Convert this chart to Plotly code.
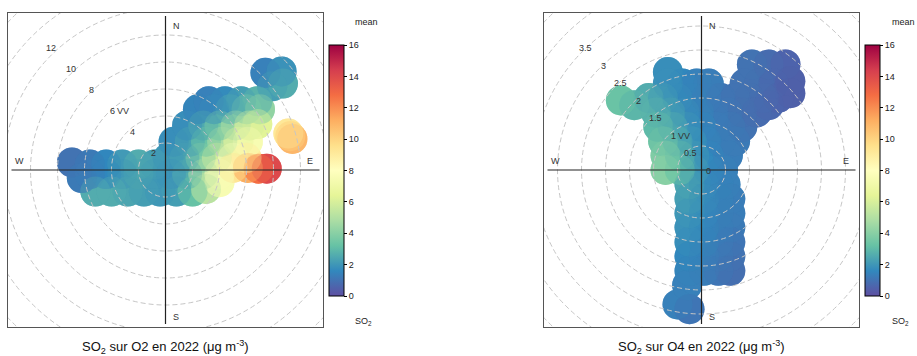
import plotly.graph_objects as go

W, H = 917, 356
FONT = "Liberation Sans, Arial, sans-serif"

# ---------------- DATA ----------------
# Site O2 : wind components (ws units, east / north) and mean SO2
o2_u = [-5.2, -4.0, -2.8, -1.6, -0.4, 0.8, 2.0, 3.0, 4.0,
        -6.93, -6.2,
        -5.6, -4.4, -3.2, -2.0, -0.8, 0.4, 1.6, 2.8, 4.0,
        5.0, 6.1, 6.9, 7.5,
        -5.6, -4.4, -3.2, -2.0, -0.8,
        0.2, 1.4, 2.6, 3.8, 5.0, 6.0,
        0.6, 1.8, 3.0, 4.2, 5.4, 6.1,
        1.6, 2.8, 4.0, 5.2, 6.2, 6.8,
        2.4, 3.6, 4.8, 6.0, 7.0,
        3.2, 4.4, 5.6, 6.8,
        7.9, 8.7, 7.4, 8.6,
        9.1, 9.25, 9.4]
o2_v = [-1.6, -1.6, -1.6, -1.6, -1.6, -1.6, -1.6, -1.4, -0.9,
        0.56, -0.6,
        -0.3, -0.3, -0.3, -0.3, -0.3, -0.3, -0.3, -0.3, -0.3,
        0.15, 0.15, 0.1, 0.1,
        0.4, 0.4, 0.4, 0.4, 0.4,
        0.9, 0.9, 0.9, 0.9, 0.9, 0.9,
        2.1, 2.1, 2.1, 2.1, 2.1, 2.1,
        3.3, 3.3, 3.3, 3.3, 3.3, 3.4,
        4.5, 4.5, 4.5, 4.5, 4.5,
        5.1, 5.1, 5.1, 5.1,
        6.2, 6.4, 7.2, 7.3,
        2.7, 2.5, 2.3]
o2_so2 = [2.6, 2.6, 2.4, 2.2, 2.0, 2.2, 3.2, 5.2, 7.5,
          1.0, 1.2,
          1.3, 1.6, 2.0, 2.4, 2.0, 1.9, 2.6, 4.8, 7.6,
          9.3, 11.2, 12.8, 14.0,
          1.2, 1.6, 2.1, 2.6, 2.2,
          2.0, 2.3, 3.8, 5.8, 7.8, 9.0,
          1.8, 2.3, 3.3, 4.8, 6.5, 7.5,
          1.8, 2.5, 3.5, 4.8, 6.0, 6.3,
          1.5, 1.8, 2.6, 3.6, 4.2,
          1.4, 1.7, 2.2, 2.8,
          2.2, 2.6, 1.4, 1.9,
          9.2, 10.0, 10.9]

# Site O4
o4_u = [-0.75, -0.45, -0.15, 0.15, 0.45,
        -0.75, -0.45, -0.15, 0.15, 0.55,
        -0.8, -0.5, -0.2, 0.1, 0.4, 0.7,
        -0.9, -0.6, -0.3, 0.0, 0.3, 0.6, 0.85,
        -0.95, -0.65, -0.35, -0.05, 0.25, 0.55, 0.85, 1.15, 1.4,
        -1.68, -1.4, -1.1, -0.8, -0.5, -0.2, 0.1, 0.4, 0.7, 1.0, 1.3, 1.6, 1.85,
        -0.7, -0.4, -0.1, 0.15, 0.9, 1.2, 1.5, 1.85,
        -0.7,
        1.05, 1.4, 1.75,
        -0.25, 0.05, 0.35, 0.5,
        -0.25, 0.05, 0.35, 0.6,
        -0.25, 0.05, 0.35, 0.6,
        -0.25, 0.05, 0.35, 0.6,
        -0.25, 0.05, 0.35, 0.6,
        -0.25, 0.05, 0.35, 0.6,
        -0.25, 0.05, 0.35, 0.6,
        -0.3, -0.5, -0.25]
o4_v = [0.0, 0.0, 0.0, 0.0, 0.0,
        0.3, 0.3, 0.3, 0.3, 0.3,
        0.6, 0.6, 0.6, 0.6, 0.6, 0.6,
        0.9, 0.9, 0.9, 0.9, 0.9, 0.9, 0.9,
        1.2, 1.2, 1.2, 1.2, 1.2, 1.2, 1.2, 1.2, 1.35,
        1.45, 1.35, 1.5, 1.5, 1.5, 1.5, 1.5, 1.5, 1.5, 1.5, 1.5, 1.5, 1.6,
        1.8, 1.8, 1.8, 1.8, 1.8, 1.8, 1.8, 1.85,
        2.04,
        2.2, 2.2, 2.2,
        -0.3, -0.3, -0.3, -0.3,
        -0.6, -0.6, -0.6, -0.6,
        -0.9, -0.9, -0.9, -0.9,
        -1.2, -1.2, -1.2, -1.2,
        -1.5, -1.5, -1.5, -1.5,
        -1.8, -1.8, -1.8, -1.8,
        -2.1, -2.1, -2.1, -2.1,
        -2.4, -2.8, -2.9]
o4_so2 = [4.0, 3.2, 2.3, 1.7, 1.4,
          3.8, 3.0, 2.2, 1.6, 1.3,
          3.4, 2.8, 2.1, 1.6, 1.3, 1.2,
          3.0, 2.6, 2.0, 1.6, 1.3, 1.2, 1.0,
          2.8, 2.4, 1.9, 1.5, 1.3, 1.1, 0.9, 0.8, 0.7,
          3.3, 2.9, 2.6, 2.2, 1.8, 1.5, 1.3, 1.1, 1.0, 0.9, 0.8, 0.6, 0.5,
          1.9, 1.6, 1.4, 1.3, 1.0, 0.9, 0.7, 0.5,
          1.8,
          1.0, 0.8, 0.6,
          2.4, 1.8, 1.5, 1.4,
          2.2, 1.8, 1.5, 1.3,
          2.0, 1.7, 1.4, 1.3,
          1.9, 1.6, 1.4, 1.2,
          1.8, 1.5, 1.3, 1.1,
          1.6, 1.4, 1.2, 1.0,
          1.5, 1.3, 1.1, 0.9,
          1.4, 1.4, 1.1]

o2_rings = [2, 4, 6, 8, 10, 12, 14, 16]
o2_ring_labels = ["2", "4", "6", "8", "10", "12"]
o4_rings = [0.5, 1, 1.5, 2, 2.5, 3, 3.5, 4, 4.5]
o4_ring_labels = ["0", "0.5", "1", "1.5", "2", "2.5", "3", "3.5"]
cbar_ticks = [0, 2, 4, 6, 8, 10, 12, 14, 16]
spectral_r = ["#5E4FA2", "#3288BD", "#66C2A5", "#ABDDA4", "#E6F598", "#FFFFBF",
              "#FEE08B", "#FDAE61", "#F46D43", "#D53E4F", "#9E0142"]
titles = ["SO<sub>2</sub> sur O2 en 2022 (\u03bcg m<sup>-3</sup>)",
          "SO<sub>2</sub> sur O4 en 2022 (\u03bcg m<sup>-3</sup>)"]

# ---------------- FIGURE ----------------
fig = go.Figure()
colorscale = [[i / (len(spectral_r) - 1), c] for i, c in enumerate(spectral_r)]

panels = [
    dict(u=o2_u, v=o2_v, z=o2_so2, scale=13.5, left=8, ax="", ca="coloraxis",
         rings=o2_rings, labels=o2_ring_labels, vv="6", kx=-0.76, ky=0.78, off=(8.5, -4),
         cbx=329, txt=353, title=titles[0]),
    dict(u=o4_u, v=o4_v, z=o4_so2, scale=48.0, left=544, ax="2", ca="coloraxis2",
         rings=o4_rings, labels=o4_ring_labels, vv="1", kx=-0.73, ky=0.73, off=(6.8, -1),
         cbx=865, txt=890, title=titles[1]),
]

top, bottom = 13, 327
shapes, annotations = [], []
for p in panels:
    s = p["scale"]
    xa, ya = "x" + p["ax"], "y" + p["ax"]
    # opaque layer (covered area) + two translucent passes in opposite order (blending)
    for xs, ys, zs, op in [(p["u"], p["v"], p["z"], 1.0),
                           (p["u"], p["v"], p["z"], 0.35),
                           (p["u"][::-1], p["v"][::-1], p["z"][::-1], 0.3)]:
        fig.add_trace(go.Scatter(
            x=xs, y=ys, mode="markers", xaxis=xa, yaxis=ya,
            marker=dict(size=30, color=zs, coloraxis=p["ca"], opacity=op, line=dict(width=0)),
            hoverinfo="skip", showlegend=False))
    halfx, halfy = 157.5 / s, (bottom - top) / 2 / s
    axkw = dict(showgrid=False, zeroline=False, showticklabels=False, ticks="",
                showline=True, mirror=True, linecolor="#555", linewidth=1)
    fig.update_layout(**{
        "xaxis" + p["ax"]: dict(domain=[p["left"] / W, (p["left"] + 315) / W],
                                range=[-halfx, halfx], anchor=ya, **axkw),
        "yaxis" + p["ax"]: dict(domain=[1 - bottom / H, 1 - top / H],
                                range=[-halfy, halfy], anchor=xa, **axkw),
    })
    for r in p["rings"]:
        shapes.append(dict(type="circle", xref=xa, yref=ya, x0=-r, x1=r, y0=-r, y1=r,
                           line=dict(color="#c6c6c6", width=1, dash="5px,3px"), layer="above"))
    L = 154 / s
    shapes.append(dict(type="line", xref=xa, yref=ya, x0=0, x1=0, y0=-L, y1=L,
                       line=dict(color="#222", width=1.2), layer="above"))
    shapes.append(dict(type="line", xref=xa, yref=ya, x0=-L, x1=L, y0=0, y1=0,
                       line=dict(color="#222", width=1.2), layer="above"))
    d, o = 144.5 / s, 10.5 / s
    for t, x, y in [("N", o, d), ("S", o, -d - 2 / s), ("E", d, o * 0.9), ("W", -d - 1.5 / s, o * 0.9)]:
        annotations.append(dict(text=t, x=x, y=y, xref=xa, yref=ya, showarrow=False,
                                xanchor="center", yanchor="middle",
                                font=dict(size=9, color="#333", family=FONT)))
    for lab in p["labels"]:
        n = float(lab)
        lx = (p["off"][0] + p["kx"] * n * s) / s
        ly = (p["off"][1] + p["ky"] * n * s) / s
        annotations.append(dict(text=lab, x=lx, y=ly, xref=xa, yref=ya, showarrow=False,
                                xanchor="center", yanchor="middle",
                                font=dict(size=9, color="#333", family=FONT)))
        if lab == p["vv"]:
            annotations.append(dict(text="VV", x=lx + 11 / s, y=ly, xref=xa, yref=ya,
                                    showarrow=False, xanchor="center", yanchor="middle",
                                    font=dict(size=9, color="#333", family=FONT)))
    annotations.append(dict(text=p["title"], x=(p["left"] + 157.5) / W, y=1 - 347 / H,
                            xref="paper", yref="paper", showarrow=False,
                            xanchor="center", yanchor="middle",
                            font=dict(size=13, color="#111", family=FONT)))
    annotations.append(dict(text="mean", x=p["txt"] / W, y=1 - 22 / H, xref="paper", yref="paper",
                            xanchor="left", yanchor="middle", showarrow=False,
                            font=dict(size=9, color="#222", family=FONT)))
    annotations.append(dict(text="SO<sub>2</sub>", x=p["txt"] / W, y=1 - 321 / H, xref="paper",
                            yref="paper", xanchor="left", yanchor="middle", showarrow=False,
                            font=dict(size=9, color="#222", family=FONT)))
    fig.update_layout(**{p["ca"]: dict(
        cmin=0, cmax=16, colorscale=colorscale,
        colorbar=dict(x=p["cbx"] / W, xanchor="left", xpad=0, y=1 - 170.5 / H, yanchor="middle",
                      ypad=0, len=251, lenmode="pixels", thickness=15, thicknessmode="pixels",
                      outlinewidth=1, outlinecolor="#000", tickvals=cbar_ticks, ticks="outside",
                      ticklen=3, tickcolor="#000", tickfont=dict(size=9, color="#222", family=FONT)))})

fig.update_layout(width=W, height=H, margin=dict(l=0, r=0, t=0, b=0, autoexpand=False),
                  paper_bgcolor="white", plot_bgcolor="white",
                  shapes=shapes, annotations=annotations, font=dict(family=FONT))
fig.write_html("out.html", config={"displayModeBar": False},
               post_script="document.body.style.margin='0';document.body.style.overflow='hidden';")
